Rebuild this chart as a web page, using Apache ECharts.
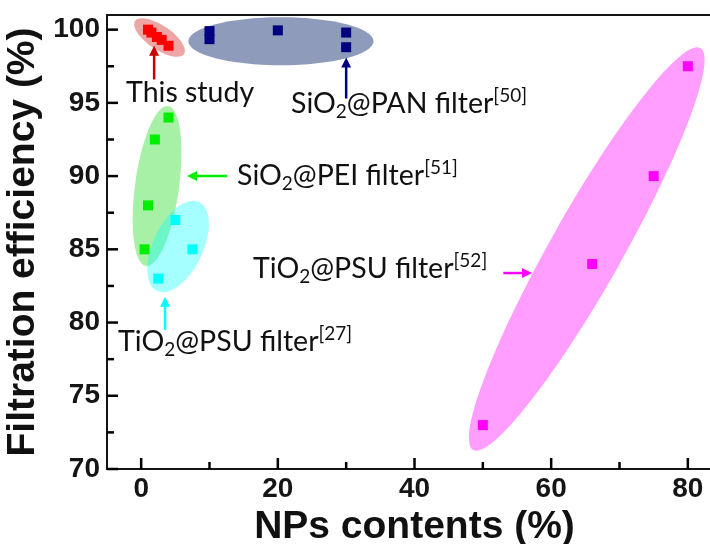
<!DOCTYPE html>
<html>
<head>
<meta charset="utf-8">
<script src="https://cdn.jsdelivr.net/npm/echarts@6/dist/echarts.min.js"></script>
<style>
  html, body { margin: 0; padding: 0; background: #ffffff; }
  #chart { width: 710px; height: 544px; }
</style>
</head>
<body>
<div id="chart"></div>
<script>
// NPs content (%) against filtration efficiency (%) for each filter type
const thisStudy = [[1, 100], [1.5, 99.8], [2.3, 99.5], [3, 99.3], [4, 98.9]];
const sio2Pan   = [[10, 99.9], [10, 99.35], [20, 99.95], [30, 99.8], [30, 98.8]];
const sio2Pei   = [[4, 94], [2, 92.5], [1, 88], [0.5, 85]];
const tio2Psu27 = [[5, 87], [7.5, 85], [2.5, 83]];
const tio2Psu52 = [[50, 73], [66, 84], [75, 90], [80, 97.5]];

const xRange = [-5, 85];
const yRange = [70, 101];
const xMajorTicks = [0, 20, 40, 60, 80];
const xMinorTicks = [10, 30, 50, 70];
const yMajorTicks = [70, 75, 80, 85, 90, 95, 100];
const yMinorTicks = [72.5, 77.5, 82.5, 87.5, 92.5, 97.5];

// Highlight ellipse per group: ends of the long axis in data units [x1, y1, x2, y2]
const groupKeys    = ['study', 'pan', 'pei', 'psu27', 'psu52'];
const groupRegions = [
  [-0.89, 100.59, 6.28, 98.33],
  [6.91, 99.21, 34.0, 99.21],
  [3.94, 94.78, 0.72, 83.86],
  [8.48, 88.23, 2.33, 82.16],
  [81.83, 98.74, 48.6, 71.3]
];

// Callout arrows: [tailX, tailY, headX, headY] and label anchors [x, y]
const calloutArrows = [
  [1.9, 96.6, 1.9, 98.9],
  [30, 95.3, 30, 98.1],
  [12.58, 90.0, 6.72, 90.0],
  [3.5, 79.5, 3.5, 81.77],
  [53.0, 83.38, 57.2, 83.38]
];
const calloutAnchors = [[7.16, 95.67], [21.94, 94.92], [14.04, 90.0], [-3.38, 78.67], [16.38, 83.66]];
const calloutTexts = [
  'This study',
  '{t|SiO}{sub|2}{t|@PAN filter}{sup|[50]}',
  '{t|SiO}{sub|2}{t|@PEI filter}{sup|[51]}',
  '{t|TiO}{sub|2}{t|@PSU filter}{sup|[27]}',
  '{t|TiO}{sub|2}{t|@PSU filter}{sup|[52]}'
];

// Styling per group
const groupStyle = {
  study: { point: '#ff0000', fill: 'rgba(215,40,40,0.42)', arrow: '#c80000', halfWidth: 12, align: 'center' },
  pan:   { point: '#000080', fill: 'rgba(30,55,120,0.50)', arrow: '#000080', halfWidth: 24, align: 'left' },
  pei:   { point: '#00ee00', fill: 'rgba(0,215,0,0.35)',   arrow: '#00ee00', halfWidth: 22, align: 'left' },
  psu27: { point: '#00ffff', fill: 'rgba(0,255,255,0.35)', arrow: '#00ffff', halfWidth: 25, align: 'left' },
  psu52: { point: '#ff00ff', fill: 'rgba(255,0,255,0.38)', arrow: '#ff00ff', halfWidth: 36, align: 'left' }
};

const labelFont = 'Lato';
const axisFont = '"Liberation Sans", Arial, sans-serif';
const inkColor = '#151515';

function regionItem(params, api) {
  const style = groupStyle[groupKeys[params.dataIndex]];
  const p1 = api.coord([api.value(0), api.value(1)]);
  const p2 = api.coord([api.value(2), api.value(3)]);
  const dx = p2[0] - p1[0], dy = p2[1] - p1[1];
  return {
    type: 'ellipse',
    x: (p1[0] + p2[0]) / 2,
    y: (p1[1] + p2[1]) / 2,
    rotation: -Math.atan2(dy, dx),
    shape: { cx: 0, cy: 0, rx: Math.sqrt(dx * dx + dy * dy) / 2, ry: style.halfWidth },
    style: { fill: style.fill }
  };
}

function calloutItem(params, api) {
  const i = params.dataIndex;
  const style = groupStyle[groupKeys[i]];
  const tail = api.coord([api.value(0), api.value(1)]);
  const head = api.coord([api.value(2), api.value(3)]);
  const dx = head[0] - tail[0], dy = head[1] - tail[1];
  const len = Math.sqrt(dx * dx + dy * dy);
  const ux = dx / len, uy = dy / len;
  const headLen = 10, headHalf = 5;
  const bx = head[0] - ux * headLen, by = head[1] - uy * headLen;
  const anchor = api.coord(calloutAnchors[i]);
  return {
    type: 'group',
    children: [
      {
        type: 'line',
        shape: { x1: tail[0], y1: tail[1], x2: bx + ux * 2, y2: by + uy * 2 },
        style: { stroke: style.arrow, lineWidth: 2.5 }
      },
      {
        type: 'polygon',
        shape: { points: [head, [bx - uy * headHalf, by + ux * headHalf], [bx + uy * headHalf, by - ux * headHalf]] },
        style: { fill: style.arrow }
      },
      {
        type: 'text',
        x: anchor[0],
        y: anchor[1],
        style: {
          text: calloutTexts[i],
          fill: '#111111',
          fontFamily: labelFont,
          fontSize: 28.5,
          align: style.align,
          verticalAlign: 'middle',
          rich: {
            t:   { fontFamily: labelFont, fontSize: 28.5, lineHeight: 35, fill: '#111111' },
            sub: { fontFamily: labelFont, fontSize: 19, lineHeight: 19, verticalAlign: 'bottom', fill: '#111111' },
            sup: { fontFamily: labelFont, fontSize: 19, lineHeight: 19, verticalAlign: 'top', fill: '#111111' }
          }
        }
      }
    ]
  };
}

// Inward tick marks: [x, y, direction (0 = up from bottom axis, 1 = right from left axis), length]
const tickItems = []
  .concat(xMajorTicks.map(v => [v, yRange[0], 0, 11]))
  .concat(xMinorTicks.map(v => [v, yRange[0], 0, 7]))
  .concat(yMajorTicks.map(v => [xRange[0], v, 1, 11]))
  .concat(yMinorTicks.map(v => [xRange[0], v, 1, 7]));

function tickItem(params, api) {
  const p = api.coord([api.value(0), api.value(1)]);
  const len = api.value(3);
  const up = api.value(2) === 0;
  return {
    type: 'rect',
    shape: up
      ? { x: p[0] - 1.25, y: p[1] - len, width: 2.5, height: len }
      : { x: p[0], y: p[1] - 1.25, width: len, height: 2.5 },
    style: { fill: '#000000' }
  };
}

const chart = echarts.init(document.getElementById('chart'));

const axisLineStyle = { color: inkColor, width: 2 };
const tickLabelStyle = { fontFamily: axisFont, fontWeight: 'bold', fontSize: 28, color: inkColor };

function scatter(name, data, key) {
  return {
    name: name,
    type: 'scatter',
    data: data,
    symbol: 'rect',
    symbolSize: 10,
    itemStyle: { color: groupStyle[key].point, opacity: 1 },
    z: 3
  };
}

chart.setOption({
  animation: false,
  grid: {
    left: 107, top: 15, right: -12, bottom: 75,
    outerBoundsMode: 'none',
    show: true, borderColor: inkColor, borderWidth: 2
  },
  xAxis: {
    type: 'value', min: xRange[0], max: xRange[1],
    name: 'NPs contents (%)', nameLocation: 'middle', nameGap: 33,
    nameTextStyle: { fontFamily: axisFont, fontWeight: 'bold', fontSize: 39, color: '#111111' },
    axisLine: { show: true, onZero: false, lineStyle: axisLineStyle },
    axisTick: { show: false },
    axisLabel: Object.assign({ margin: 6, customValues: xMajorTicks }, tickLabelStyle),
    splitLine: { show: false }
  },
  yAxis: {
    type: 'value', min: yRange[0], max: yRange[1],
    name: 'Filtration efficiency (%)', nameLocation: 'middle', nameGap: 58,
    nameTextStyle: { fontFamily: axisFont, fontWeight: 'bold', fontSize: 39, color: '#111111' },
    axisLine: { show: true, onZero: false, lineStyle: axisLineStyle },
    axisTick: { show: false },
    axisLabel: Object.assign({ margin: 7, customValues: yMajorTicks }, tickLabelStyle),
    splitLine: { show: false }
  },
  series: [
    {
      name: 'ticks',
      type: 'custom',
      renderItem: tickItem,
      data: tickItems,
      encode: { x: 0, y: 1 },
      clip: false,
      z: 10
    },
    {
      name: 'groups',
      type: 'custom',
      renderItem: regionItem,
      data: groupRegions,
      encode: { x: [0, 2], y: [1, 3] },
      clip: false,
      z: 1
    },
    scatter('This study', thisStudy, 'study'),
    scatter('SiO2@PAN filter', sio2Pan, 'pan'),
    scatter('SiO2@PEI filter', sio2Pei, 'pei'),
    scatter('TiO2@PSU filter [27]', tio2Psu27, 'psu27'),
    scatter('TiO2@PSU filter [52]', tio2Psu52, 'psu52'),
    {
      name: 'callouts',
      type: 'custom',
      renderItem: calloutItem,
      data: calloutArrows,
      encode: { x: [0, 2], y: [1, 3] },
      clip: false,
      z: 4
    }
  ]
});
</script>
</body>
</html>
